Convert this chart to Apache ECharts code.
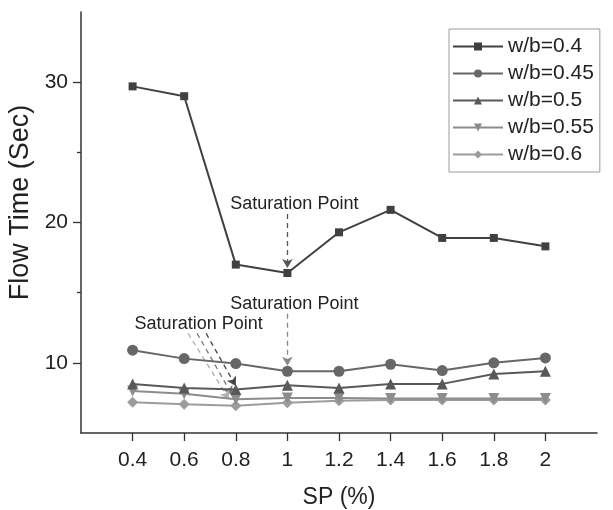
<!DOCTYPE html>
<html>
<head>
<meta charset="utf-8">
<script src="https://cdn.jsdelivr.net/npm/echarts@6/dist/echarts.min.js"></script>
<style>
  html, body { margin: 0; padding: 0; background: #fff; }
  #chart { width: 613px; height: 510px; }
</style>
</head>
<body>
<div id="chart"></div>
<script>
// SP (%) values on the x axis
const spValues = [0.4, 0.6, 0.8, 1.0, 1.2, 1.4, 1.6, 1.8, 2.0];
const xTickValues = [0.4, 0.6, 0.8, 1.0, 1.2, 1.4, 1.6, 1.8, 2.0];
const yTickValues = [10, 20, 30];
const yMinorTicks = [15, 25];

// flow time (sec) per w/b ratio
const wb040 = [29.7, 29.0, 17.0, 16.4, 19.3, 20.9, 18.9, 18.9, 18.3];
const wb045 = [10.9, 10.3, 9.95, 9.4, 9.4, 9.9, 9.45, 10.0, 10.35];
const wb050 = [8.5, 8.2, 8.1, 8.4, 8.2, 8.5, 8.5, 9.2, 9.4];
const wb055 = [8.0, 7.8, 7.4, 7.5, 7.5, 7.45, 7.45, 7.45, 7.45];
const wb060 = [7.2, 7.05, 6.95, 7.15, 7.3, 7.35, 7.35, 7.35, 7.35];

const seriesNames = ['w/b=0.4', 'w/b=0.45', 'w/b=0.5', 'w/b=0.55', 'w/b=0.6'];
const seriesColors = ['#404040', '#676767', '#595959', '#8c8c8c', '#9c9c9c'];

const FONT = 'Liberation Sans, Arial, sans-serif';
const downTri = 'path://M0,0 L10,0 L5,9 Z';

function pairs(vals) {
    return spValues.map((x, i) => [x, vals[i]]);
}

function arrow(from, to, color) {
    return [
        { coord: from, lineStyle: { color: color, type: [5, 4], width: 1.3 } },
        { coord: to }
    ];
}

function satLabel(coord) {
    return {
        coord: coord,
        symbol: 'circle',
        symbolSize: 1,
        itemStyle: { color: 'rgba(0,0,0,0)' },
        label: {
            show: true,
            position: 'inside',
            formatter: 'Saturation Point',
            fontFamily: FONT,
            fontSize: 18,
            color: '#222'
        }
    };
}

const markLineBase = {
    silent: true,
    animation: false,
    symbol: ['none', 'arrow'],
    symbolSize: [8, 9],
    label: { show: false }
};

const chart = echarts.init(document.getElementById('chart'));

const lineDefs = [
    { data: wb040, symbol: 'rect', size: 8 },
    { data: wb045, symbol: 'circle', size: 11 },
    { data: wb050, symbol: 'triangle', size: 11 },
    { data: wb055, symbol: downTri, size: 11 },
    { data: wb060, symbol: 'diamond', size: 11 }
];

const series = lineDefs.map((d, i) => ({
    name: seriesNames[i],
    type: 'line',
    data: pairs(d.data),
    symbol: d.symbol,
    symbolSize: d.size,
    showAllSymbol: true,
    z: 10 - i,
    lineStyle: { width: 2, color: seriesColors[i] },
    itemStyle: { color: seriesColors[i] }
}));

// annotations
series[0].markLine = Object.assign({}, markLineBase, {
    data: [arrow([1.0, 20.6], [1.0, 16.75], '#555')]
});
series[0].markPoint = { silent: true, animation: false, data: [satLabel([1.027, 21.35])] };

series[1].markLine = Object.assign({}, markLineBase, {
    data: [arrow([1.0, 13.5], [1.0, 9.8], '#888')]
});
series[1].markPoint = { silent: true, animation: false, data: [satLabel([1.027, 14.2])] };

series[2].markLine = Object.assign({}, markLineBase, {
    data: [
        arrow([0.685, 12.1], [0.8, 8.35], '#444'),
        arrow([0.65, 12.1], [0.786, 7.7], '#7a7a7a'),
        arrow([0.615, 12.1], [0.774, 7.4], '#b0b0b0')
    ]
});
series[2].markPoint = { silent: true, animation: false, data: [satLabel([0.656, 12.77])] };

const option = {
    animation: false,
    textStyle: { fontFamily: FONT },
    grid: { left: 81, right: 16, top: 12, bottom: 77, outerBoundsMode: 'none' },
    legend: {
        orient: 'vertical',
        left: 449,
        top: 29,
        padding: [7, 6, 7, 3],
        itemGap: 6,
        itemWidth: 50,
        itemHeight: 10,
        borderColor: '#9a9a9a',
        borderWidth: 1,
        textStyle: { fontFamily: FONT, fontSize: 21, color: '#222' },
        data: seriesNames
    },
    xAxis: {
        type: 'value',
        min: 0.2,
        max: 2.2,
        interval: 0.2,
        name: 'SP (%)',
        nameLocation: 'middle',
        nameGap: 53,
        nameTextStyle: { fontFamily: FONT, fontSize: 23, color: '#222' },
        axisLine: { lineStyle: { color: '#333', width: 1.5 } },
        axisTick: { show: true, inside: false, length: 8, customValues: xTickValues, lineStyle: { color: '#333', width: 1.3 } },
        axisLabel: {
            customValues: xTickValues,
            margin: 17,
            fontFamily: FONT,
            fontSize: 21,
            color: '#222',
            formatter: v => String(+v.toFixed(1))
        },
        splitLine: { show: false }
    },
    yAxis: [
        {
            type: 'value',
            min: 5,
            max: 35,
            interval: 5,
            name: 'Flow Time (Sec)',
            nameLocation: 'middle',
            nameGap: 39,
            nameTextStyle: { fontFamily: FONT, fontSize: 27, color: '#222', padding: [0, 0, 0, 40] },
            axisLine: { show: true, lineStyle: { color: '#333', width: 1.5 } },
            axisTick: { show: true, length: 8, customValues: yTickValues, lineStyle: { color: '#333', width: 1.3 } },
            axisLabel: { customValues: yTickValues, margin: 13, fontFamily: FONT, fontSize: 21, color: '#222' },
            splitLine: { show: false }
        },
        {
            type: 'value',
            min: 5,
            max: 35,
            interval: 5,
            position: 'left',
            axisLine: { show: false },
            axisTick: { show: true, length: 4, customValues: yMinorTicks, lineStyle: { color: '#333', width: 1.3 } },
            axisLabel: { show: false },
            splitLine: { show: false }
        }
    ],
    series: series
};

chart.setOption(option);
</script>
</body>
</html>
